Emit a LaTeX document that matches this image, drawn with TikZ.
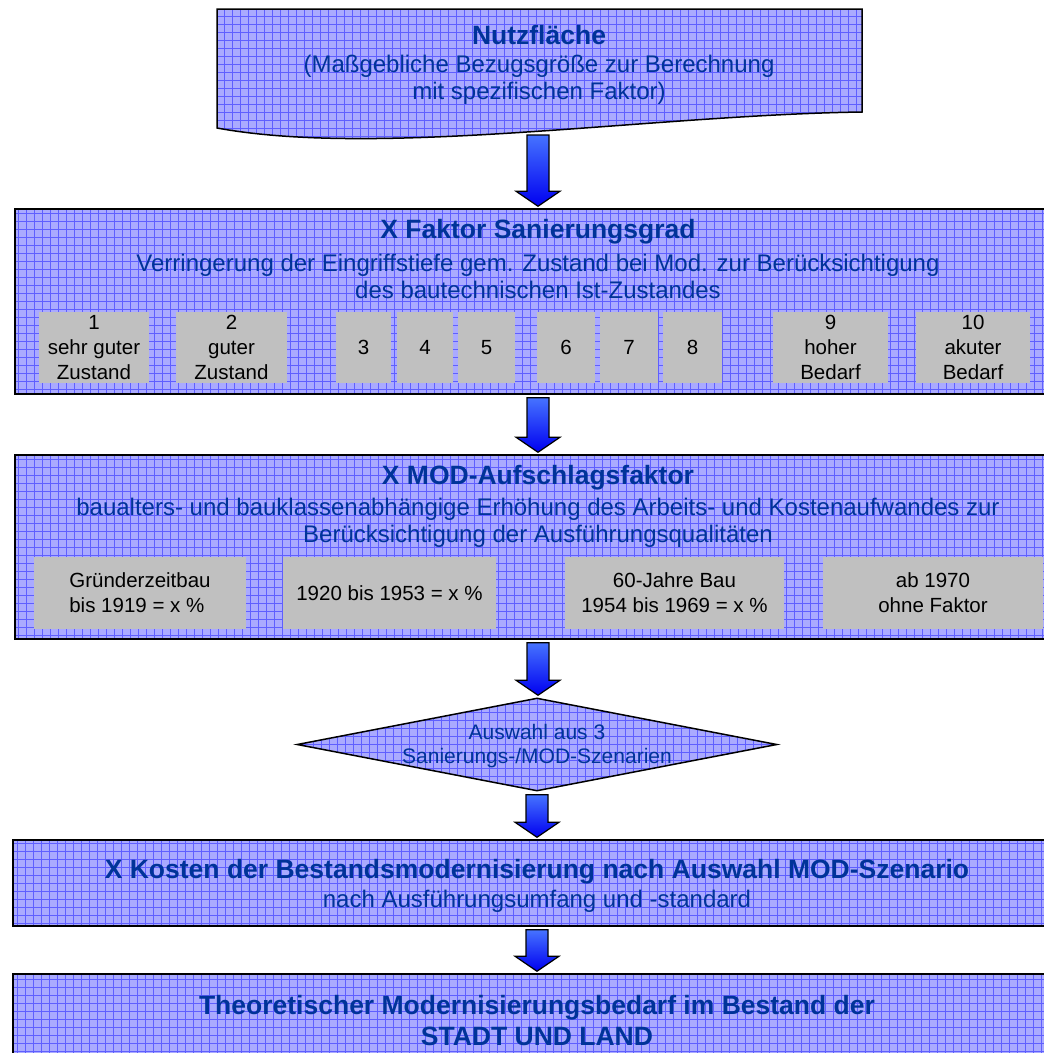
\documentclass[tikz,border=0pt]{standalone}
\usepackage{fontspec}
\setmainfont{Liberation Sans}
\usetikzlibrary{calc,shapes.geometric}

\definecolor{rasterblau}{RGB}{170,170,255}
\definecolor{rasterlinie}{RGB}{95,95,255}
\definecolor{schriftblau}{RGB}{0,51,153}
\definecolor{stufengrau}{RGB}{192,192,192}
\definecolor{pfeiloben}{RGB}{70,115,255}
\definecolor{pfeilunten}{RGB}{0,0,240}

\tikzset{
  raster/.style={fill=rasterblau, path picture={\draw[rasterlinie, line width=0.6pt]
      (path picture bounding box.south west) grid[step=8pt] (path picture bounding box.north east);}},
  kasten/.style={raster, draw=black, line width=1.5pt, rectangle, inner sep=0pt},
  titel/.style={text=schriftblau, font=\bfseries\fontsize{26.5}{31}\selectfont, align=center, inner sep=0pt},
  erl/.style={text=schriftblau, font=\fontsize{24}{27}\selectfont, align=center, inner sep=0pt},
  stufe/.style={fill=stufengrau, inner sep=0pt, align=center, font=\fontsize{20.5}{25}\selectfont},
  pfeil/.style={draw=black, line width=1.2pt, top color=pfeiloben, bottom color=pfeilunten},
}

% Blockpfeil von #1 nach #2
\newcommand{\blockpfeil}[2]{%
  \path[pfeil] let \p1=(#1), \p2=(#2) in
    (\x1-11,\y1-3) -- (\x1+11,\y1-3) -- (\x1+11,\y2+17) -- (\x1+22,\y2+17)
    -- (\x1,\y2+2) -- (\x1-22,\y2+17) -- (\x1-11,\y2+17) -- cycle;}

\begin{document}
\begin{tikzpicture}[x=1pt,y=-1pt]
        \clip (0,0) rectangle (1044,1053);

        % Nutzflaeche
        \draw[raster, draw=black, line width=1.5pt] (217,9) -- (862,9) -- (862,112)
            .. controls (650,115) and (380,158) .. (217,128) -- cycle;
        \coordinate (nutzunten) at (538,132);
        \node[titel] (nutztitel) at (539,35) {Nutzfläche};
        \node[erl] (nutztext) at (539,80) {(Maßgebliche Bezugsgröße zur Berechnung\\mit spezifischen Faktor)};

        % Faktor Sanierungsgrad
        \node[kasten, minimum width=1046pt, minimum height=185pt] (sgrad) at (538,301.5) {};
        \node[titel] (sgradtitel) at (538,232) {X Faktor Sanierungsgrad};
        \node[erl] (sgradtext) at (538,276.5) {Verringerung der Eingriffstiefe gem. Zustand bei Mod. zur Berücksichtigung\\des bautechnischen Ist-Zustandes};
        \node[stufe, minimum width=110pt, minimum height=71pt] (s1) at (94,347.5) {1\\sehr guter\\Zustand};
        \node[stufe, minimum width=111pt, minimum height=71pt] (s2) at (231.5,347.5) {2\\guter\\Zustand};
        \node[stufe, minimum width=55pt, minimum height=71pt] (s3) at (363.5,347.5) {3};
        \node[stufe, minimum width=56pt, minimum height=71pt] (s4) at (425,347.5) {4};
        \node[stufe, minimum width=57pt, minimum height=71pt] (s5) at (486.5,347.5) {5};
        \node[stufe, minimum width=58pt, minimum height=71pt] (s6) at (566,347.5) {6};
        \node[stufe, minimum width=58pt, minimum height=71pt] (s7) at (629,347.5) {7};
        \node[stufe, minimum width=59pt, minimum height=71pt] (s8) at (692.5,347.5) {8};
        \node[stufe, minimum width=115pt, minimum height=71pt] (s9) at (830.5,347.5) {9\\hoher\\Bedarf};
        \node[stufe, minimum width=114pt, minimum height=71pt] (s10) at (973,347.5) {10\\akuter\\Bedarf};

        % MOD-Aufschlagsfaktor
        \node[kasten, minimum width=1046pt, minimum height=184pt] (mod) at (538,547) {};
        \node[titel] (modtitel) at (538,478) {X MOD-Aufschlagsfaktor};
        \node[erl] (modtext) at (538,522.5) {baualters- und bauklassenabhängige Erhöhung des Arbeits- und Kostenaufwandes zur\\Berücksichtigung der Ausführungsqualitäten};
        \node[stufe, align=left, minimum width=212pt, minimum height=72pt] (gruender) at (140,593) {Gründerzeitbau\\bis 1919 = x \%};
        \node[stufe, minimum width=213pt, minimum height=72pt] (zwanziger) at (389.5,593) {1920 bis 1953 = x \%};
        \node[stufe, minimum width=219pt, minimum height=72pt] (sechziger) at (674.5,593) {60-Jahre Bau\\1954 bis 1969 = x \%};
        \node[stufe, minimum width=220pt, minimum height=72pt] (siebziger) at (933,593) {ab 1970\\ohne Faktor};

        % Auswahl
        \node[raster, draw=black, line width=1.5pt, diamond, inner sep=0pt, minimum width=480pt, minimum height=93pt] (wahl) at (537,744.5) {};
        \node[erl, font=\fontsize{21}{24}\selectfont] (wahltext) at (537,746) {Auswahl aus 3\\Sanierungs-/MOD-Szenarien};

        % Kosten
        \node[kasten, minimum width=1048pt, minimum height=86pt] (kosten) at (537,883) {};
        \node[titel] (kostentitel) at (537,872) {X Kosten der Bestandsmodernisierung nach Auswahl MOD-Szenario};
        \node[erl] (kostentext) at (537,901) {nach Ausführungsumfang und -standard};

        % Bedarf
        \node[kasten, minimum width=1048pt, minimum height=90pt] (bedarf) at (537,1019) {};
        \node[titel] (bedarftitel) at (537,1020.5) {Theoretischer Modernisierungsbedarf im Bestand der\\STADT UND LAND};

        % Pfeile
        \blockpfeil{nutzunten}{sgrad.north}
        \blockpfeil{sgrad.south}{mod.north}
        \blockpfeil{mod.south}{wahl.north}
        \blockpfeil{wahl.south}{kosten.north}
        \blockpfeil{kosten.south}{bedarf.north}
\end{tikzpicture}
\end{document}
